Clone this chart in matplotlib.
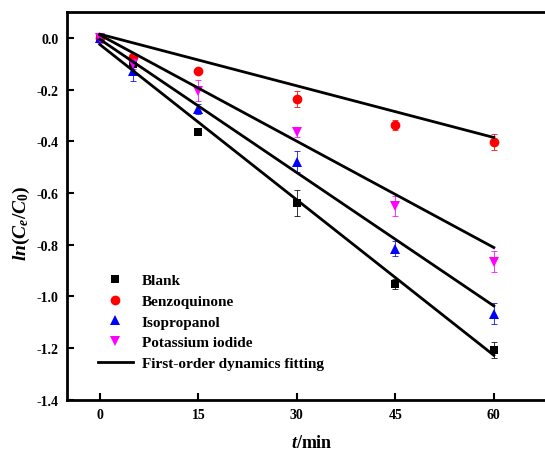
import matplotlib
matplotlib.use("Agg")
import matplotlib.pyplot as plt
from matplotlib.lines import Line2D

t = [0, 5, 15, 30, 45, 60]
series_names = ["Blank", "Benzoquinone", "Isopropanol", "Potassium iodide"]
blank = [0.0, -0.10, -0.365, -0.637, -0.951, -1.208]
benzo = [0.0, -0.075, -0.129, -0.236, -0.337, -0.402]
iso = [0.0, -0.127, -0.275, -0.478, -0.815, -1.067]
ki = [0.0, -0.100, -0.204, -0.363, -0.650, -0.866]
blank_err = [0.0, 0.01, 0.01, 0.05, 0.02, 0.03]
benzo_err = [0.0, 0.01, 0.01, 0.03, 0.02, 0.03]
iso_err = [0.0, 0.04, 0.02, 0.04, 0.03, 0.04]
ki_err = [0.02, 0.02, 0.04, 0.02, 0.04, 0.04]
fit_t = [0, 60]
blank_fit = [-0.025, -1.228]
benzo_fit = [0.015, -0.385]
iso_fit = [-0.005, -1.037]
ki_fit = [0.012, -0.811]
xticks = [0, 15, 30, 45, 60]
yticks = [0.0, -0.2, -0.4, -0.6, -0.8, -1.0, -1.2, -1.4]

plt.rcParams['font.family'] = ['Liberation Serif', 'DejaVu Serif']
plt.rcParams['font.weight'] = 'bold'
plt.rcParams['mathtext.fontset'] = 'custom'
plt.rcParams['mathtext.it'] = 'Liberation Serif:italic:bold'
plt.rcParams['mathtext.rm'] = 'Liberation Serif:bold'
plt.rcParams['mathtext.bf'] = 'Liberation Serif:bold'

fig = plt.figure(figsize=(5.45, 4.52), dpi=100)
ax = fig.add_axes([67/545, 51.3/452, 492.5/545, 387.5/452])

colors = ["black", "red", "blue", "magenta"]
markers = ["s", "o", "^", "v"]
sizes = [5.5, 7, 7.5, 7.5]
data = [blank, benzo, iso, ki]
errs = [blank_err, benzo_err, iso_err, ki_err]
fits = [blank_fit, benzo_fit, iso_fit, ki_fit]

for y, e, c, m, s in zip(data, errs, colors, markers, sizes):
    ax.errorbar(t, y, yerr=e, fmt='none', ecolor=c, elinewidth=0.7,
                capsize=2.5, capthick=0.7, alpha=0.8, zorder=2)
    ax.plot(t, y, linestyle='none', marker=m, color=c, markersize=s,
            markeredgewidth=0, zorder=3)
for f in fits:
    ax.plot(fit_t, f, color='black', linewidth=2.0, zorder=4)

ax.set_xlim(-5, 70)
ax.set_ylim(-1.4, 0.1)
ax.set_xticks(xticks)
ax.set_xticklabels([str(v) for v in xticks])
ax.set_yticks(yticks)
ax.set_yticklabels([f"{v:.1f}" for v in yticks])
ax.tick_params(direction='in', length=5, width=1.5, labelsize=10, pad=6)
for sp in ax.spines.values():
    sp.set_linewidth(2.0)

ax.set_xlabel(r"$t$/min", fontsize=13, fontweight='bold')
ax.xaxis.set_label_coords((312 - 67) / 492.5, -(444 - 400.7) / 387.5)
ax.set_ylabel(r"$ln(C_e/C_0)$", fontsize=14)
ax.yaxis.set_label_coords(-(67 - 21) / 492.5, (400.7 - 223) / 387.5)
ax.xaxis.label.set_va('center')
ax.yaxis.label.set_va('center')

handles = [Line2D([], [], linestyle='none', marker=m, color=c, markersize=s,
                  markeredgewidth=0) for c, m, s in zip(colors, markers, sizes)]
handles.append(Line2D([], [], color='black', linewidth=2.0))
labels = series_names + ["First-order dynamics fitting"]
leg = ax.legend(handles, labels, loc='upper left',
                bbox_to_anchor=(90/545, 1 - 267/452), bbox_transform=fig.transFigure,
                frameon=False, fontsize=11, labelspacing=0.46,
                handlelength=2.3, handletextpad=0.6, borderpad=0)
for txt in leg.get_texts():
    txt.set_fontweight('bold')

fig.savefig("out.png", dpi=100)
